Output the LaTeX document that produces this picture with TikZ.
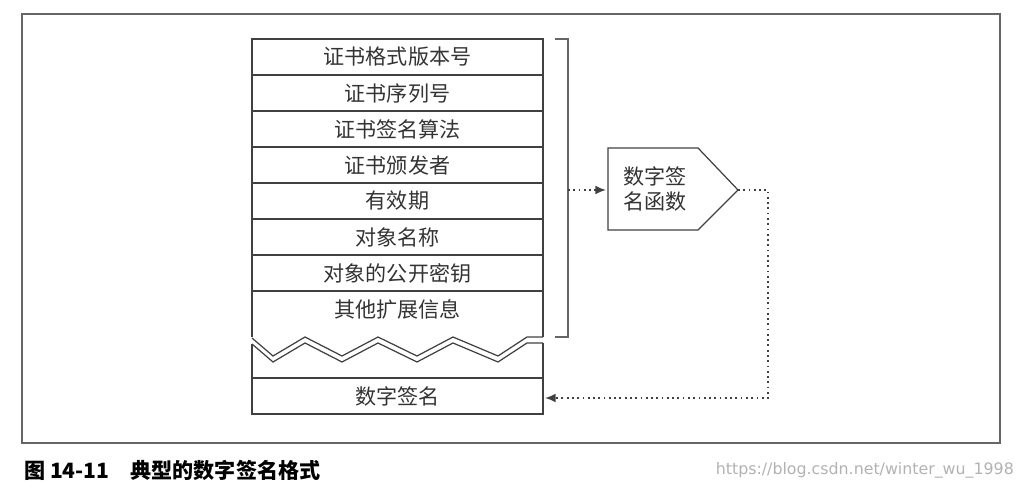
\documentclass[tikz,border=0pt]{standalone}
\usepackage{fontspec}
\newfontfamily\cjk{Noto Sans CJK SC}
\newfontfamily\wmfont{DejaVu Sans}
\usetikzlibrary{arrows.meta}
\begin{document}
\begin{tikzpicture}[x=0.02cm,y=-0.02cm,
  line/.style={draw=black!75,line width=0.7pt},
  dot/.style={draw=black!75,line width=1pt,dotted},
  lab/.style={font=\cjk\fontsize{12}{14}\selectfont,text=black!80}]
\useasboundingbox (0,0) rectangle (1034,492);
\draw[line,black!60] (22,14) rectangle (1000,443);
% rows
\foreach \t [count=\i from 0] in {证书格式版本号,证书序列号,证书签名算法,证书颁发者,有效期,对象名称,对象的公开密钥,其他扩展信息}{
  \node[lab] (r\i) at (397.5,{57+36*\i}) {\t};
}
\draw[line] (252,337) -- (252,39) -- (543,39) -- (543,337);
\foreach \y in {75,111,147,183,219,255,291} \draw[line] (252,\y) -- (543,\y);
\draw[line] (252,338) -- (273,356) -- (305,337) -- (342,356) -- (378,337) -- (417,356) -- (453,337) -- (498,356) -- (527,337) -- (543,337);
\draw[line] (252,344) -- (273,362) -- (305,343) -- (342,362) -- (378,343) -- (417,362) -- (453,343) -- (498,362) -- (527,343) -- (543,343);
\draw[line] (252,344) -- (252,414) -- (543,414) -- (543,343);
\draw[line] (252,378) -- (543,378);
\node[lab] (sig) at (397.5,396) {数字签名};
% bracket
\draw[line,black!60] (555,39) -- (568,39) -- (568,337) -- (555,337);
\coordinate (bm) at (568,190);
% pentagon
\draw[line] (608,148) -- (698,148) -- (738,190) -- (698,230) -- (608,230) -- cycle;
\node[lab,align=center] (fn) at (655,189) {数字签\\名函数};
\coordinate (tip) at (738,190);
\coordinate (fl) at (606,190);
\draw[dot,-{Latex[length=6pt,width=5pt]}] (bm) -- (fl);
\coordinate (c1) at (768,190);
\coordinate (c2) at (768,398);
\coordinate (se) at (545,398);
\draw[dot,-{Latex[length=6pt,width=5pt]}] (tip) -- (c1) -- (c2) -- (se);
% caption
\node[anchor=west,font=\cjk\bfseries\fontsize{12}{14}\selectfont] (cap) at (18,470) {图 14-11\quad 典型的数字签名格式};
\node[anchor=east,font=\wmfont\fontsize{9}{11}\selectfont,text=black!30] (wm) at (1020,470) {https://blog.csdn.net/winter\_wu\_1998};
\end{tikzpicture}
\end{document}
